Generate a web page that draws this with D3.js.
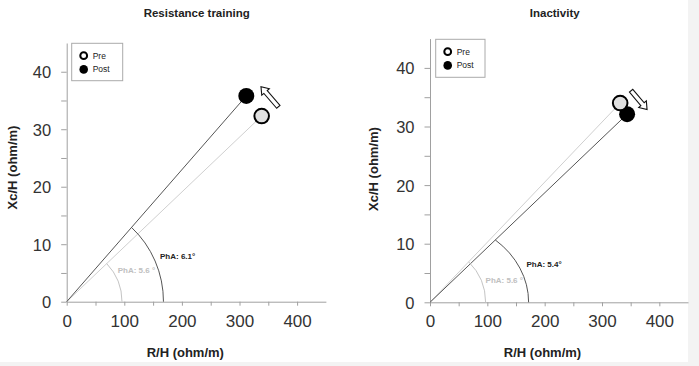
<!DOCTYPE html>
<html><head><meta charset="utf-8">
<script src="https://cdn.jsdelivr.net/npm/d3@7"></script>
<style>
html,body{margin:0;padding:0;background:#fff;}
svg{display:block;font-family:"Liberation Sans",Arial,Helvetica,sans-serif;}
</style></head>
<body>
<svg id="c" width="699" height="366"></svg>
<script>
// ---- data ----
const panelTitles = ["Resistance training", "Inactivity"];
const preR   = [338.5, 331.7];   // R/H (ohm/m)
const preXc  = [32.3, 34.0];     // Xc/H (ohm/m)
const postR  = [311.8, 343.8];
const postXc = [35.8, 32.1];
const prePhA  = ["5.6 °", "5.6 °"];
const postPhA = ["6.1°", "5.4°"];
const preArcRx  = [96, 97];      // arc radius along R/H
const preArcRy  = [9.6, 9.6];    // arc radius along Xc/H
const postArcRx = [168, 172];
const postArcRy = [17.4, 14.2];
const xTickLabels = [0, 100, 200, 300, 400];
const yTickLabels = [0, 10, 20, 30, 40];
const legendLabels = ["Pre", "Post"];
const xLabel = "R/H (ohm/m)";
const yLabel = "Xc/H (ohm/m)";
// annotation positions (data units)
const preLabelPos  = [[88.5, 5.0], [96.9, 3.3]];
const postLabelPos = [[162, 7.4], [168.2, 6.0]];
const arrowFrom = [[367.4, 33.9], [350.8, 36.1]];
const arrowTo   = [[337.3, 37.4], [378.6, 32.9]];

// ---- layout ----
const layout = [
  {xr:[66.7, 325.9], yr:[301.7, 43.0], title:[196.7, 17], xl:[185.3, 357], yl:[12.7, 167.5], lg:[71.7, 43.3, 51, 37.4]},
  {xr:[430, 688.0], yr:[302.3, 38.6], title:[554.7, 17], xl:[542.5, 357], yl:[373.3, 169], lg:[435.7, 39.3, 49.3, 38]}
];

const svg = d3.select("#c");
svg.append("rect").attr("x",688).attr("y",0).attr("width",11).attr("height",366).attr("fill","#f3f3f3");
svg.append("rect").attr("x",0).attr("y",362).attr("width",699).attr("height",4).attr("fill","#f3f3f3");

const axisColor = "#a0a0a0";

panelTitles.forEach((title, i) => {
  const L = layout[i];
  const x = d3.scaleLinear().domain([0, 450]).range(L.xr);
  const y = d3.scaleLinear().domain([0, 45]).range(L.yr);
  const g = svg.append("g");

  g.append("text").attr("x", L.title[0]).attr("y", L.title[1]).attr("text-anchor","middle")
    .attr("font-size", 11.5).attr("font-weight","bold").attr("fill","#222").text(title);

  const xa = d3.axisBottom(x).tickValues(d3.range(0, 401, 50)).tickSize(4).tickSizeOuter(0).tickPadding(9)
    .tickFormat(d => xTickLabels.includes(d) ? d : "");
  const gx = g.append("g").attr("transform", `translate(0,${y(0)})`).call(xa);
  const ya = d3.axisLeft(y).tickValues(d3.range(0, 41, 5)).tickSize(5.5).tickSizeOuter(0).tickPadding(10)
    .tickFormat(d => yTickLabels.includes(d) ? d : "");
  const gy = g.append("g").attr("transform", `translate(${x(0)},0)`).call(ya);
  [gx, gy].forEach(a => {
    a.select(".domain").attr("stroke", axisColor).attr("stroke-width", 1);
    a.selectAll(".tick line").attr("stroke", axisColor);
    a.selectAll(".tick text").attr("fill","#333").attr("font-family","'Liberation Sans',Arial,sans-serif");
  });
  gx.selectAll(".tick text").attr("font-size", 17);
  gy.selectAll(".tick text").attr("font-size", 16.5).attr("dy","0.36em");

  g.append("text").attr("x", L.xl[0]).attr("y", L.xl[1]).attr("text-anchor","middle")
    .attr("font-size", 13).attr("font-weight","bold").attr("fill","#222").text(xLabel);
  g.append("text").attr("transform", `translate(${L.yl[0]},${L.yl[1]}) rotate(-90)`)
    .attr("text-anchor","middle").attr("dy","0.35em")
    .attr("font-size", 13).attr("font-weight","bold").attr("fill","#222").text(yLabel);

  const ox = x(0), oy = y(0);
  function arcPath(rxU, ryU, px, py) {
    const rx = x(rxU) - ox, ry = oy - y(ryU);
    const th = Math.atan2(oy - y(py), x(px) - ox);
    const phi = Math.atan(Math.tan(th) * rx / ry);
    return `M${ox + rx},${oy} A${rx},${ry} 0 0 0 ${ox + rx*Math.cos(phi)},${oy - ry*Math.sin(phi)}`;
  }

  g.append("line").attr("x1",ox).attr("y1",oy).attr("x2",x(preR[i])).attr("y2",y(preXc[i]))
    .attr("stroke","#cfcfcf").attr("stroke-width",1);
  g.append("line").attr("x1",ox).attr("y1",oy).attr("x2",x(postR[i])).attr("y2",y(postXc[i]))
    .attr("stroke","#555").attr("stroke-width",1);

  g.append("path").attr("d", arcPath(preArcRx[i], preArcRy[i], preR[i], preXc[i])).attr("fill","none")
    .attr("stroke","#c4c4c4").attr("stroke-width",1);
  g.append("path").attr("d", arcPath(postArcRx[i], postArcRy[i], postR[i], postXc[i])).attr("fill","none")
    .attr("stroke","#555").attr("stroke-width",1);

  g.append("text").attr("x", x(preLabelPos[i][0])).attr("y", y(preLabelPos[i][1]))
    .attr("font-size", 8).attr("font-weight","bold").attr("fill","#c0c0c0").text("PhA: " + prePhA[i]);
  g.append("text").attr("x", x(postLabelPos[i][0])).attr("y", y(postLabelPos[i][1]))
    .attr("font-size", 8).attr("font-weight","bold").attr("fill","#222").text("PhA: " + postPhA[i]);

  g.append("circle").attr("cx", x(postR[i])).attr("cy", y(postXc[i])).attr("r", 8).attr("fill","#000");
  g.append("circle").attr("cx", x(preR[i])).attr("cy", y(preXc[i])).attr("r", 7.3)
    .attr("fill","#e0e0e0").attr("stroke","#000").attr("stroke-width",2);

  const tx = x(arrowFrom[i][0]), ty = y(arrowFrom[i][1]);
  const hx = x(arrowTo[i][0]), hy = y(arrowTo[i][1]);
  const len = Math.hypot(hx - tx, hy - ty);
  const ang = Math.atan2(hy - ty, hx - tx) * 180 / Math.PI;
  const sw = 2.2, hw = 5, hl = 7;
  const pts = [[0,-sw],[len-hl,-sw],[len-hl,-hw],[len,0],[len-hl,hw],[len-hl,sw],[0,sw]];
  g.append("path").attr("d", "M" + pts.map(p => p.join(",")).join("L") + "Z")
    .attr("transform", `translate(${tx},${ty}) rotate(${ang})`)
    .attr("fill","#fff").attr("stroke","#111").attr("stroke-width",1.1).attr("stroke-linejoin","miter");

  const lg = g.append("g");
  lg.append("rect").attr("x", L.lg[0]).attr("y", L.lg[1]).attr("width", L.lg[2]).attr("height", L.lg[3])
    .attr("fill","#fff").attr("stroke","#aaa").attr("stroke-width",1);
  legendLabels.forEach((lab, k) => {
    const cy = L.lg[1] + 12.4 + k * 13.7;
    const cx = L.lg[0] + 12;
    if (k === 0) {
      lg.append("circle").attr("cx",cx).attr("cy",cy).attr("r",3.4).attr("fill","#fff")
        .attr("stroke","#000").attr("stroke-width",2);
    } else {
      lg.append("circle").attr("cx",cx).attr("cy",cy).attr("r",4.3).attr("fill","#000");
    }
    lg.append("text").attr("x", cx + 9).attr("y", cy).attr("dy","0.35em")
      .attr("font-size", 8.5).attr("fill","#222").text(lab);
  });
});
</script>
</body></html>
